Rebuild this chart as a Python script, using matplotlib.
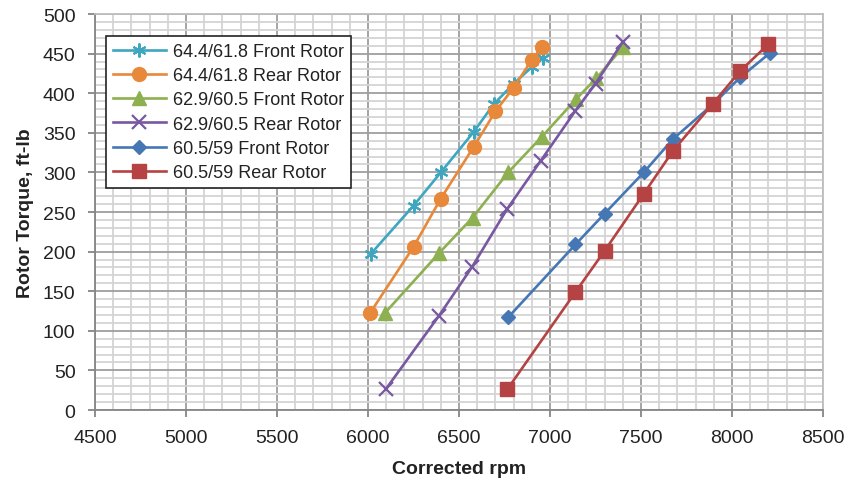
import matplotlib
matplotlib.use("Agg")
from matplotlib import pyplot as plt
from matplotlib.ticker import MultipleLocator

plt.rcParams['font.family'] = ['Liberation Sans', 'DejaVu Sans']

# data
front_644_rpm = [6015, 6250, 6400, 6580, 6690, 6800, 6900, 6960]
front_644_tq = [197, 258, 300, 351, 386, 412, 433, 445]
rear_644_rpm = [6010, 6250, 6400, 6580, 6700, 6800, 6900, 6955]
rear_644_tq = [122, 206, 267, 332, 377, 407, 442, 458]
front_629_rpm = [6095, 6390, 6575, 6770, 6955, 7145, 7255, 7400]
front_629_tq = [123, 198, 243, 300, 345, 393, 419, 458]
rear_629_rpm = [6100, 6390, 6570, 6765, 6950, 7140, 7250, 7400]
rear_629_tq = [27, 119, 180, 254, 315, 378, 412, 465]
front_605_rpm = [6770, 7140, 7300, 7515, 7675, 7895, 8045, 8210]
front_605_tq = [117, 209, 248, 300, 342, 386, 420, 451]
rear_605_rpm = [6765, 7140, 7300, 7515, 7675, 7895, 8045, 8200]
rear_605_tq = [26, 149, 201, 273, 327, 387, 428, 462]

labels = ['64.4/61.8 Front Rotor', '64.4/61.8 Rear Rotor',
          '62.9/60.5 Front Rotor', '62.9/60.5 Rear Rotor',
          '60.5/59 Front Rotor', '60.5/59 Rear Rotor']
colors = ['#3FA6BF', '#E8883A', '#8DB050', '#7858A0', '#4677B5', '#B54343']

fig = plt.figure(figsize=(8.49, 4.89), dpi=100)
ax = fig.add_axes([0.1119, 0.1595, 0.8575, 0.8098])

series = [
    (front_644_rpm, front_644_tq, (6, 2, 0), 10, 1.5),
    (rear_644_rpm, rear_644_tq, 'o', 10, 1),
    (front_629_rpm, front_629_tq, '^', 10, 1),
    (rear_629_rpm, rear_629_tq, 'x', 10, 1.6),
    (front_605_rpm, front_605_tq, 'D', 7, 1),
    (rear_605_rpm, rear_605_tq, 's', 9.5, 1),
]
for (xs, ys, m, ms, mew), lab, c in zip(series, labels, colors):
    ax.plot(xs, ys, color=c, lw=1.9, marker=m, markersize=ms,
            markeredgewidth=mew, markeredgecolor=c, markerfacecolor=c,
            label=lab, zorder=3)

ax.set_xlim(4500, 8500)
ax.set_ylim(0, 500)
ax.xaxis.set_major_locator(MultipleLocator(500))
ax.xaxis.set_minor_locator(MultipleLocator(100))
ax.yaxis.set_major_locator(MultipleLocator(50))
ax.yaxis.set_minor_locator(MultipleLocator(10))
ax.grid(True, which='minor', color='#D4D4D4', lw=1.3, zorder=0)
ax.grid(True, which='major', color='#9E9E9E', lw=1.3, zorder=1)
ax.set_axisbelow(True)

for s in ['top', 'right']:
    ax.spines[s].set_color('#BEBEBE')
    ax.spines[s].set_linewidth(1.3)
for s in ['left', 'bottom']:
    ax.spines[s].set_color('#868686')
    ax.spines[s].set_linewidth(1.3)
ax.tick_params(which='major', direction='out', length=5, width=1.3,
               color='#868686', labelsize=14, labelcolor='#222222', pad=9)
ax.tick_params(which='minor', length=0)

ax.set_xlabel('Corrected rpm', fontsize=14, fontweight='bold', color='#222222', labelpad=10)
ax.set_ylabel('Rotor Torque, ft-lb', fontsize=14, fontweight='bold', color='#222222', labelpad=6)

leg = ax.legend(loc='upper left', bbox_to_anchor=(0.015, 0.945), borderaxespad=0,
                fontsize=13, frameon=True, fancybox=False, edgecolor='#222222',
                framealpha=1, borderpad=0.4, labelspacing=0.4,
                handlelength=2.9, handletextpad=0.4)
leg.get_frame().set_linewidth(1.2)
for t in leg.get_texts():
    t.set_color('#222222')

fig.savefig('out.png', dpi=100)
